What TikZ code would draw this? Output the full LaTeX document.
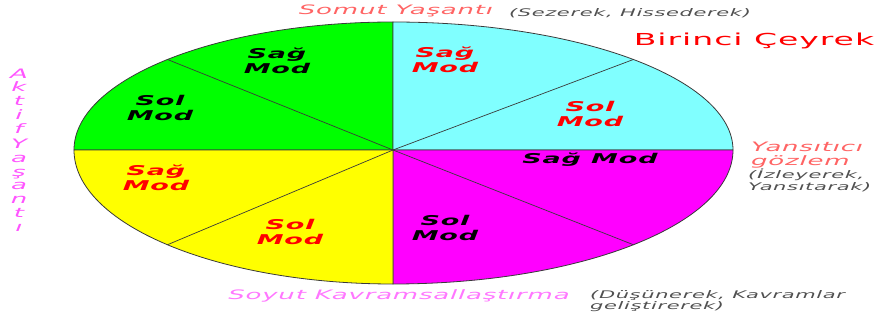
\documentclass[tikz,border=0pt]{standalone}
\usepackage{fontspec}
\newfontfamily\wf[FakeStretch=2.0,LetterSpace=6]{DejaVu Sans}
\definecolor{qgreen}{HTML}{00FF00}
\definecolor{qcyan}{HTML}{80FFFF}
\definecolor{qyellow}{HTML}{FFFF00}
\definecolor{qmagenta}{HTML}{FF00FF}
\definecolor{edge}{HTML}{3A3A3A}
\definecolor{softred}{HTML}{FF6464}
\definecolor{softmag}{HTML}{FF55FF}
\definecolor{paleMag}{HTML}{FF77FF}
\definecolor{txtgray}{HTML}{505050}
\begin{document}
\begin{tikzpicture}[x=1pt,y=1pt,
  inlab/.style={font=\wf\bfseries\itshape\fontsize{13.5}{15}\selectfont, align=center, inner sep=0pt},
  outlab/.style={font=\wf\itshape\fontsize{13}{15}\selectfont, inner sep=0pt},
  graylab/.style={font=\wf\itshape\fontsize{10.5}{11.5}\selectfont, text=txtgray, inner sep=0pt},
  radial/.style={draw=edge, line width=0.7pt},
  sector/.style={draw=edge, line width=0.8pt}]
\useasboundingbox (0,0) rectangle (879,322);
\coordinate (C) at (393,172);
% sectors
\path[sector, fill=qgreen] (C) -- +(-319,0) arc[start angle=180, end angle=90, x radius=319, y radius=128] -- cycle;
\path[sector, fill=qcyan] (C) -- +(0,128) arc[start angle=90, end angle=0, x radius=340, y radius=128] -- cycle;
\path[sector, fill=qmagenta] (C) -- +(340,0) arc[start angle=0, end angle=-90, x radius=340, y radius=134] -- cycle;
\path[sector, fill=qyellow] (C) -- +(0,-134) arc[start angle=270, end angle=180, x radius=319, y radius=134] -- cycle;
% radial dividers
\draw[radial] (C) -- +(135:319 and 128);
\draw[radial] (C) -- +(45:340 and 128);
\draw[radial] (C) -- +(315:340 and 134);
\draw[radial] (C) -- +(225:319 and 134);
% inner labels
\node[inlab, text=black] (gsag) at (277,261) {Sağ\\Mod};
\node[inlab, text=black] (gsol) at (160,214) {Sol\\Mod};
\node[inlab, text=red] (csag) at (445,262) {Sağ\\Mod};
\node[inlab, text=red] (csol) at (590,208) {Sol\\Mod};
\node[inlab, text=black] (msag) at (590,162) {Sağ Mod};
\node[inlab, text=black] (msol) at (445,94) {Sol\\Mod};
\node[inlab, text=red] (ysag) at (156,144) {Sağ\\Mod};
\node[inlab, text=red] (ysol) at (290,90) {Sol\\Mod};
% outer labels
\node[outlab, text=softred] (somut) at (396,311) {Somut Yaşantı};
\node[graylab] (sezerek) at (630,309) {(Sezerek, Hissederek)};
\node[font=\wf\fontsize{16.5}{18}\selectfont, text=red, inner sep=0pt] (birinci) at (754,281) {Birinci Çeyrek};
\node[outlab, text=softred, anchor=west] (yans) at (751,175) {Yansıtıcı};
\node[outlab, text=softred, anchor=west] (gozlem) at (751,160) {gözlem};
\node[graylab, anchor=west] (izle) at (748,147) {(İzleyerek,};
\node[graylab, anchor=west] (yansit) at (748,135) {Yansıtarak)};
\node[outlab, text=paleMag] (soyut) at (399,26) {Soyut Kavramsallaştırma};
\node[graylab, anchor=west] (dusun) at (590,26) {(Düşünerek, Kavramlar};
\node[graylab, anchor=west] (gelis) at (590,15) {geliştirerek)};
\node[font=\wf\itshape\fontsize{13}{13.8}\selectfont, text=softmag, align=center, inner sep=0pt] (aktif) at (19,172) {A\\k\\t\\i\\f\\[1.5pt]Y\\a\\ş\\a\\n\\t\\ı};
\end{tikzpicture}
\end{document}
